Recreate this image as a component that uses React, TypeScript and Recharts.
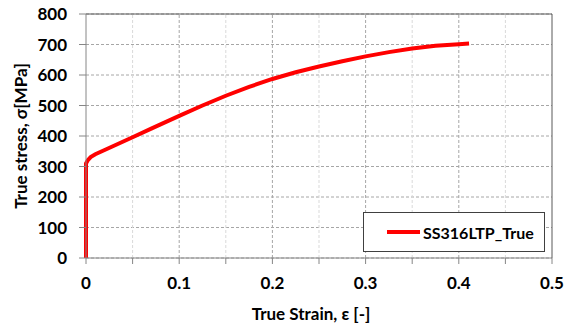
import { LineChart, Line, XAxis, YAxis, CartesianGrid, ReferenceLine, Legend, Label } from "recharts";

// true stress-strain curve
const strain = [0, 0, 0.002, 0.005, 0.01, 0.02, 0.03, 0.05, 0.07, 0.1, 0.125, 0.15, 0.175, 0.2, 0.225, 0.25, 0.275, 0.3, 0.325, 0.35, 0.375, 0.4, 0.411];
const stress = [0, 310, 321, 331, 340, 354, 368, 396, 424, 466, 500, 532, 561, 587, 609, 628, 645, 661, 675, 687, 696, 701, 703];

const xTicks = [0, 0.05, 0.1, 0.15, 0.2, 0.25, 0.3, 0.35, 0.4, 0.45, 0.5];
const xMajor = [0.1, 0.2, 0.3, 0.4];
const xMinor = [0.05, 0.15, 0.25, 0.35, 0.45];
const yTicks = [0, 100, 200, 300, 400, 500, 600, 700, 800];
const seriesName = "SS316LTP_True";

const data = strain.map((s, i) => ({ strain: s, stress: stress[i] }));

const FONT = "Lato, 'Liberation Sans', sans-serif";
const RED = "#ff0000";

const fmtX = (v: number) => {
  const r = Math.round(v * 100);
  if (r % 10 !== 0) return "";
  return r === 0 ? "0" : String(r / 100);
};

function LegendBox(props: any) {
  const item = props.payload && props.payload[0];
  return (
    <div
      style={{
        width: 182,
        height: 40,
        border: "1px solid #404040",
        boxSizing: "border-box",
        background: "#fff",
        display: "flex",
        alignItems: "center",
      }}
    >
      <span style={{ display: "inline-block", width: 33, height: 4, background: RED, marginLeft: 23, marginRight: 3 }} />
      <span style={{ fontFamily: FONT, fontWeight: 700, fontSize: 16, color: "#000" }}>{item ? item.value : seriesName}</span>
    </div>
  );
}

export default function App() {
  return (
    <div style={{ position: "absolute", left: 0, top: 0, width: 573, height: 326, background: "#fff" }}>
      <LineChart width={573} height={326} data={data} margin={{ top: 14, right: 21, left: 0, bottom: 0 }}>
        <CartesianGrid vertical={false} stroke="#a6a6a6" strokeDasharray="3 2" />
        {xMinor.map((x) => (
          <ReferenceLine key={"mn" + x} x={x} stroke="#d9d9d9" strokeDasharray="3 2" />
        ))}
        {xMajor.map((x) => (
          <ReferenceLine key={"mj" + x} x={x} stroke="#a6a6a6" strokeDasharray="3 2" />
        ))}
        <ReferenceLine y={800} stroke="#595959" strokeWidth={1} />
        <ReferenceLine x={0.5} stroke="#595959" strokeWidth={1} />
        <XAxis
          dataKey="strain"
          type="number"
          domain={[0, 0.5]}
          ticks={xTicks}
          interval={0}
          tickFormatter={fmtX}
          height={68}
          tickSize={6}
          tickMargin={13}
          stroke="#868686"
          tick={{ fontSize: 17, fontWeight: 700, fill: "#000", fontFamily: FONT }}
        >
          <Label
            value="True Strain, ε [-]"
            position="insideBottom"
            offset={6}
            dx={-8}
            style={{ fontSize: 17, fontWeight: 700, fill: "#000", fontFamily: FONT }}
          />
        </XAxis>
        <YAxis
          type="number"
          domain={[0, 800]}
          ticks={yTicks}
          interval={0}
          width={86}
          tickSize={7}
          tickMargin={12}
          stroke="#868686"
          tick={{ fontSize: 17, fontWeight: 700, fill: "#000", fontFamily: FONT }}
        >
          <Label
            value="True stress, σ[MPa]"
            position="center"
            angle={-90}
            dx={-22}
            style={{ fontSize: 17, fontWeight: 700, fill: "#000", fontFamily: FONT, textAnchor: "middle" }}
          />
        </YAxis>
        <Legend
          layout="horizontal"
          verticalAlign="middle"
          align="center"
          content={<LegendBox />}
          wrapperStyle={{ position: "absolute", left: 363, top: 212, width: 182, height: 40 }}
        />
        <Line
          name={seriesName}
          type="linear"
          dataKey="stress"
          stroke={RED}
          strokeWidth={4}
          dot={false}
          activeDot={false}
          isAnimationActive={false}
        />
      </LineChart>
    </div>
  );
}
